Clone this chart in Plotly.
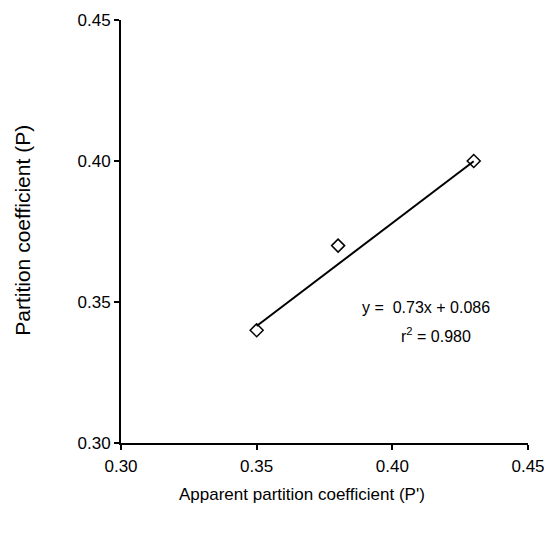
import numpy as np
import plotly.graph_objects as go

# Data
apparent_p = [0.35, 0.38, 0.43]
partition_p = [0.34, 0.37, 0.40]
slope = 0.73
intercept = 0.086
r2 = 0.980
tick_vals = [0.30, 0.35, 0.40, 0.45]
tick_text = ["0.30", "0.35", "0.40", "0.45"]

fit_x = [min(apparent_p), max(apparent_p)]
fit_y = [slope * x + intercept for x in fit_x]

fig = go.Figure()
fig.add_trace(go.Scatter(x=fit_x, y=fit_y, mode="lines",
                         line=dict(color="black", width=2), showlegend=False))
fig.add_trace(go.Scatter(x=apparent_p, y=partition_p, mode="markers",
                         marker=dict(symbol="diamond-open", size=10, color="black",
                                     line=dict(width=1.5, color="black")),
                         showlegend=False))

font = "Liberation Sans, Arial, sans-serif"
fig.add_annotation(x=0.4124, y=0.3479, xref="x", yref="y",
                   xanchor="center", yanchor="middle",
                   text=f"y =  {slope}x + {intercept}", showarrow=False,
                   font=dict(family=font, size=16, color="black"))
fig.add_annotation(x=0.4161, y=0.3383, xref="x", yref="y",
                   xanchor="center", yanchor="middle",
                   text=f"r<sup>2</sup> = {r2:.3f}", showarrow=False,
                   font=dict(family=font, size=16, color="black"))

# Axis titles
fig.add_annotation(x=0.445, y=-0.1206, xref="paper", yref="paper",
                   xanchor="center", yanchor="middle",
                   text="Apparent partition coefficient (P')", showarrow=False,
                   font=dict(family=font, size=17, color="black"))
fig.add_annotation(x=-0.242, y=0.503, xref="paper", yref="paper",
                   xanchor="center", yanchor="middle",
                   text="Partition coefficient (P)", showarrow=False, textangle=-90,
                   font=dict(family=font, size=21, color="black"))

# the page body adds an 8px offset, so the figure is sized to compensate
fig.update_layout(
    width=544, height=525,
    margin=dict(l=113, r=24, t=12, b=90),
    plot_bgcolor="white", paper_bgcolor="white",
    font=dict(family=font, size=17, color="black"),
)
fig.update_xaxes(range=[0.30, 0.45], tickvals=tick_vals, ticktext=tick_text,
                 showgrid=False, zeroline=False, showline=True, linecolor="black",
                 linewidth=2, ticks="outside", ticklen=5, tickwidth=2, tickcolor="black",
                 ticklabelstandoff=2, automargin=False)
fig.update_yaxes(range=[0.30, 0.45], tickvals=tick_vals, ticktext=tick_text,
                 showgrid=False, zeroline=False, showline=True, linecolor="black",
                 linewidth=2, ticks="outside", ticklen=5, tickwidth=2, tickcolor="black",
                 automargin=False)

fig.write_html("out.html")
